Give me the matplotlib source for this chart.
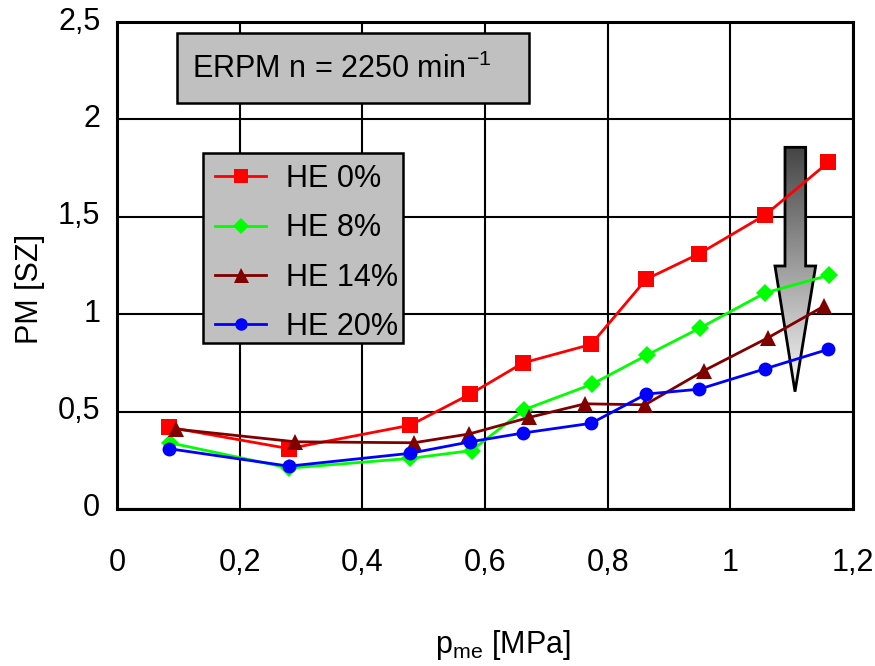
import matplotlib
matplotlib.use('Agg')
import matplotlib.pyplot as plt
import numpy as np
from matplotlib.patches import Rectangle, Polygon
from matplotlib.colors import LinearSegmentedColormap
from matplotlib.transforms import ScaledTranslation

plt.rcParams['font.family'] = ['Liberation Sans', 'DejaVu Sans']
plt.rcParams['mathtext.fontset'] = 'custom'
plt.rcParams['mathtext.rm'] = 'Liberation Sans'
plt.rcParams['mathtext.it'] = 'Liberation Sans:italic'
plt.rcParams['mathtext.bf'] = 'Liberation Sans:bold'

# ---------------- data ----------------
series_labels = ['HE 0%', 'HE 8%', 'HE 14%', 'HE 20%']
series_colors = ['#ff0000', '#00ff00', '#800000', '#0000ff']
series_markers = ['s', 'D', '^', 'o']

x_he0 = [0.084, 0.280, 0.478, 0.576, 0.662, 0.773, 0.863, 0.949, 1.057, 1.160]
y_he0 = [0.42, 0.31, 0.43, 0.59, 0.75, 0.845, 1.18, 1.31, 1.51, 1.78]

x_he8 = [0.086, 0.281, 0.478, 0.578, 0.664, 0.774, 0.864, 0.951, 1.057, 1.161]
y_he8 = [0.34, 0.21, 0.26, 0.30, 0.51, 0.64, 0.79, 0.93, 1.11, 1.20]

x_he14 = [0.097, 0.291, 0.484, 0.574, 0.672, 0.763, 0.861, 0.957, 1.062, 1.152]
y_he14 = [0.41, 0.345, 0.34, 0.385, 0.47, 0.54, 0.535, 0.71, 0.88, 1.04]

x_he20 = [0.084, 0.280, 0.478, 0.576, 0.662, 0.773, 0.863, 0.949, 1.057, 1.160]
y_he20 = [0.31, 0.22, 0.286, 0.345, 0.39, 0.44, 0.59, 0.615, 0.72, 0.82]

x_ticks = [0, 0.2, 0.4, 0.6, 0.8, 1.0, 1.2]
x_ticklabels = ['0', '0,2', '0,4', '0,6', '0,8', '1', '1,2']
y_ticks = [0, 0.5, 1.0, 1.5, 2.0, 2.5]
y_ticklabels = ['0', '0,5', '1', '1,5', '2', '2,5']

title_text = r'ERPM n = 2250 min$^{\mathregular{-1}}$'
x_label = r'p$_{\mathregular{me}}$ [MPa]'
y_label = 'PM [SZ]'

# ---------------- figure ----------------
fig = plt.figure(figsize=(8.75, 6.66), dpi=100)
ax = fig.add_axes([117 / 875, 1 - 509 / 666, 736 / 875, 487 / 666])

xs = [x_he0, x_he8, x_he14, x_he20]
ys = [y_he0, y_he8, y_he14, y_he20]
msizes = [11, 9, 12, 10]
handles = []
for x, y, c, m, ms, lab in zip(xs, ys, series_colors, series_markers, msizes, series_labels):
    h, = ax.plot(x, y, color=c, marker=m, markersize=ms, lw=2,
                 markeredgewidth=0, label=lab, zorder=4)
    handles.append(h)

ax.set_xlim(0, 1.2)
ax.set_ylim(0, 2.5)
ax.set_xticks(x_ticks)
ax.set_xticklabels(x_ticklabels)
ax.set_yticks(y_ticks)
ax.set_yticklabels(y_ticklabels)
ax.tick_params(axis='both', length=0, labelsize=22)
ax.tick_params(axis='x', pad=28)
ax.tick_params(axis='y', pad=12)
for lbl in ax.get_yticklabels():
    lbl.set_transform(lbl.get_transform() + ScaledTranslation(0, 4 / 100, fig.dpi_scale_trans))

ax.grid(True, color='black', lw=1.5)
ax.set_axisbelow(True)
for sp in ax.spines.values():
    sp.set_linewidth(2.2)
    sp.set_color('black')

ax.set_xlabel(x_label, fontsize=22, va='center')
ax.xaxis.set_label_coords((503 - 117) / 736, (509 - 645) / 487)
ax.set_ylabel(y_label, fontsize=22, va='center')
ax.yaxis.set_label_coords((30 - 117) / 736, (509 - 289) / 487)

# title box
ax.add_patch(Rectangle((0.0819, 0.834), 0.5598 - 0.0819, 0.9768 - 0.834,
                       transform=ax.transAxes, facecolor='#c0c0c0',
                       edgecolor='black', lw=1.8, zorder=5))
ax.text((191.7 - 117) / 736, (509 - 78.3) / 487, title_text, transform=ax.transAxes,
        fontsize=22, va='baseline', ha='left', zorder=6)

# legend box
ax.add_patch(Rectangle((0.1173, 0.3415), 0.389 - 0.1173, 0.7304 - 0.3415,
                       transform=ax.transAxes, facecolor='#c0c0c0',
                       edgecolor='black', lw=1.8, zorder=5))
leg = ax.legend(handles, series_labels, loc='upper left',
                bbox_to_anchor=((215 - 117) / 736, (509 - 164) / 487),
                bbox_transform=ax.transAxes, frameon=False, borderaxespad=0,
                borderpad=0, handlelength=1.67, handletextpad=0.65,
                labelspacing=0.63, fontsize=22, markerscale=0.9)
leg.set_zorder(7)

# gradient arrow
arrow_pts = [(0.9076, 0.7427), (0.9357, 0.7427), (0.9357, 0.499), (0.9493, 0.499),
             (0.9212, 0.2409), (0.8940, 0.499), (0.9076, 0.499)]
poly = Polygon(arrow_pts, closed=True, transform=ax.transAxes, facecolor='none',
               edgecolor='black', lw=2, zorder=3.1, joinstyle='miter')
ax.add_patch(poly)
cmap = LinearSegmentedColormap.from_list('g', ['#444444', '#fafafa'])
grad = np.linspace(0, 1, 256).reshape(-1, 1)
im = ax.imshow(grad, cmap=cmap, extent=(0.885, 0.955, 0.24, 0.745),
               transform=ax.transAxes, aspect='auto', origin='upper', zorder=3)
im.set_clip_path(poly)
ax.set_xlim(0, 1.2)
ax.set_ylim(0, 2.5)

fig.savefig('out.png', dpi=100)
